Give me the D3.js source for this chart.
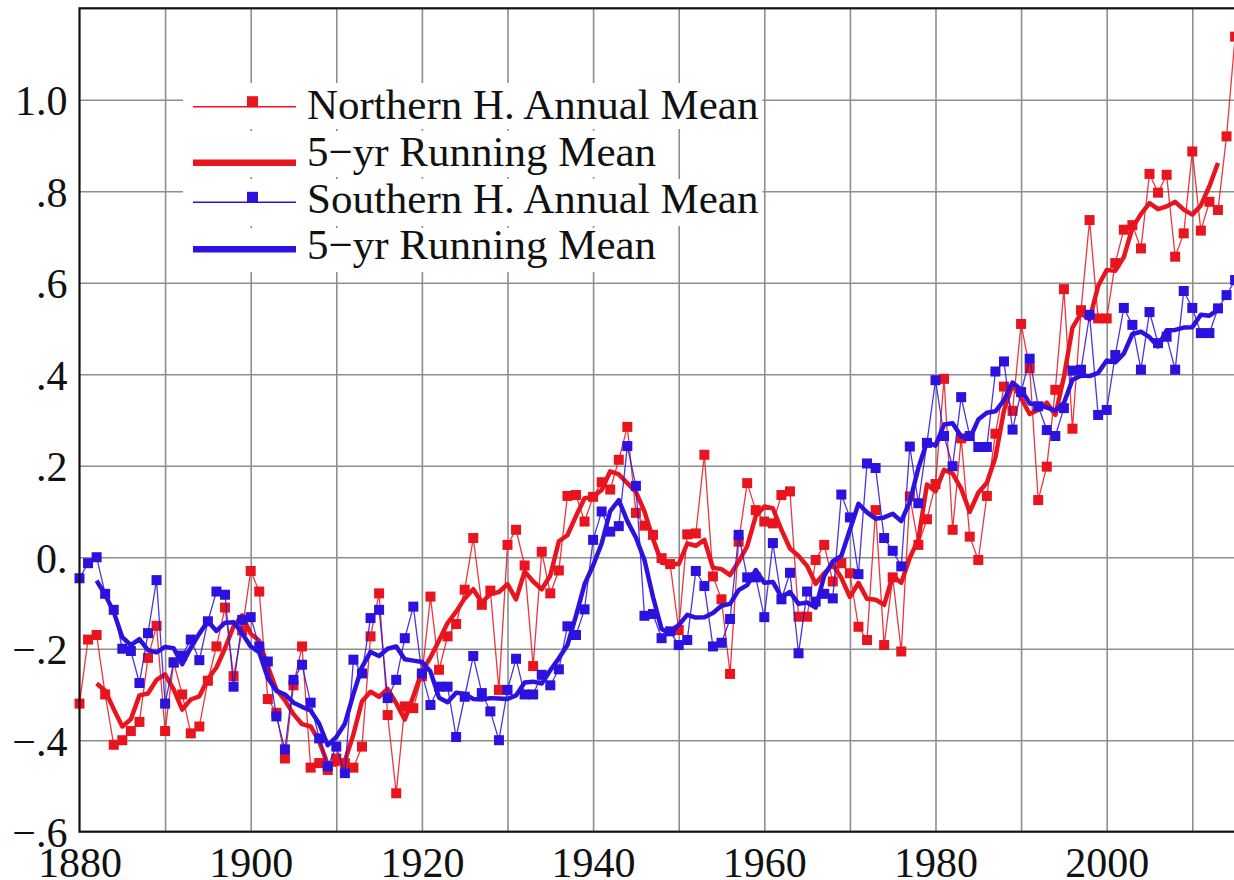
<!DOCTYPE html>
<html>
<head>
<meta charset="utf-8">
<script src="https://cdn.jsdelivr.net/npm/d3@7"></script>
<style>
    html, body { margin: 0; padding: 0; background: #fff; overflow: hidden; }
    svg { display: block; }
</style>
</head>
<body>
<svg id="chart" width="1234" height="880"></svg>
<script>
// hemispheric annual means, 1880-2015
var startYear = 1880;
var northAnnual = [
    -0.32, -0.18, -0.17, -0.30, -0.41, -0.40, -0.38, -0.36, -0.22, -0.15,
    -0.38, -0.23, -0.30, -0.385, -0.37, -0.27, -0.195, -0.11, -0.26, -0.16,
    -0.03, -0.075, -0.31, -0.34, -0.44, -0.28, -0.195, -0.46, -0.45, -0.465,
    -0.44, -0.45, -0.46, -0.414, -0.173, -0.079, -0.345, -0.516, -0.326, -0.33,
    -0.26, -0.086, -0.246, -0.173, -0.146, -0.071, 0.042, -0.104, -0.073, -0.29,
    0.027, 0.06, -0.018, -0.238, 0.012, -0.079, -0.029, 0.134, 0.136, 0.078,
    0.132, 0.164, 0.148, 0.213, 0.285, 0.097, 0.069, 0.049, -0.002, -0.015,
    -0.159, 0.05, 0.052, 0.224, -0.042, -0.092, -0.255, 0.034, 0.162, 0.103,
    0.078, 0.074, 0.136, 0.144, -0.13, -0.13, -0.006, 0.027, -0.053, -0.013,
    -0.035, -0.152, -0.181, 0.103, -0.192, -0.044, -0.206, 0.133, 0.027, 0.083,
    0.16, 0.39, 0.06, 0.26, 0.045, -0.006, 0.134, 0.27, 0.373, 0.32,
    0.51, 0.413, 0.125, 0.198, 0.366, 0.586, 0.281, 0.54, 0.737, 0.522,
    0.522, 0.643, 0.716, 0.726, 0.675, 0.838, 0.797, 0.836, 0.657, 0.708,
    0.887, 0.714, 0.777, 0.759, 0.92, 1.138
];
var southAnnual = [
    -0.046, -0.013, 0.0, -0.08, -0.115, -0.20, -0.205, -0.275, -0.166, -0.05,
    -0.32, -0.23, -0.215, -0.18, -0.225, -0.14, -0.075, -0.082, -0.283, -0.137,
    -0.131, -0.195, -0.228, -0.348, -0.42, -0.268, -0.235, -0.318, -0.396, -0.457,
    -0.414, -0.472, -0.224, -0.254, -0.133, -0.115, -0.308, -0.268, -0.177, -0.108,
    -0.254, -0.323, -0.283, -0.283, -0.393, -0.305, -0.216, -0.297, -0.337, -0.40,
    -0.29, -0.222, -0.30, -0.30, -0.257, -0.28, -0.245, -0.151, -0.17, -0.114,
    0.038, 0.10, 0.056, 0.068, 0.243, 0.156, -0.128, -0.124, -0.177, -0.162,
    -0.192, -0.181, -0.03, -0.063, -0.195, -0.187, -0.135, 0.049, -0.044, -0.044,
    -0.131, 0.031, -0.092, -0.034, -0.21, -0.075, -0.097, -0.08, -0.09, 0.137,
    0.087, -0.037, 0.205, 0.195, 0.042, 0.014, -0.02, 0.242, 0.118, 0.25,
    0.387, 0.265, 0.199, 0.35, 0.265, 0.241, 0.241, 0.406, 0.428, 0.279,
    0.361, 0.434, 0.33, 0.278, 0.265, 0.326, 0.408, 0.41, 0.53, 0.311,
    0.322, 0.442, 0.545, 0.508, 0.41, 0.536, 0.468, 0.482, 0.41, 0.582,
    0.545, 0.49, 0.49, 0.544, 0.573, 0.606
];

// 5-yr running means as drawn, 1882-2013
var meanStartYear = 1882;
var northRunning = [
    -0.276, -0.292, -0.332, -0.37, -0.354, -0.302, -0.298, -0.268,
    -0.256, -0.289, -0.333, -0.311, -0.304, -0.266, -0.241, -0.199, -0.151, -0.127,
    -0.167, -0.183, -0.239, -0.289, -0.313, -0.343, -0.365, -0.37, -0.402, -0.453,
    -0.453, -0.446, -0.387, -0.315, -0.294, -0.305, -0.288, -0.319, -0.355, -0.304,
    -0.25, -0.219, -0.182, -0.144, -0.119, -0.09, -0.07, -0.099, -0.08, -0.076,
    -0.059, -0.092, -0.031, -0.053, -0.07, -0.04, 0.035, 0.048, 0.09, 0.129,
    0.132, 0.147, 0.188, 0.181, 0.162, 0.143, 0.10, 0.04, -0.012, -0.015,
    -0.015, 0.03, 0.025, 0.038, -0.023, -0.026, -0.039, -0.01, 0.024, 0.09,
    0.111, 0.107, 0.06, 0.019, 0.003, -0.019, -0.058, -0.035, -0.016, -0.045,
    -0.087, -0.056, -0.091, -0.093, -0.104, -0.041, -0.056, -0.001, 0.039, 0.159,
    0.144, 0.191, 0.183, 0.15, 0.099, 0.141, 0.163, 0.218, 0.321, 0.377,
    0.348, 0.313, 0.322, 0.338, 0.311, 0.394, 0.502, 0.533, 0.52, 0.593,
    0.628, 0.626, 0.656, 0.72, 0.75, 0.774, 0.761, 0.767, 0.777, 0.76,
    0.749, 0.769, 0.811, 0.862
];
var southRunning = [
    -0.051, -0.082, -0.12, -0.175, -0.192, -0.179, -0.203, -0.208,
    -0.196, -0.199, -0.234, -0.198, -0.167, -0.14, -0.161, -0.143, -0.142, -0.166,
    -0.195, -0.208, -0.264, -0.292, -0.30, -0.318, -0.327, -0.335, -0.364, -0.411,
    -0.393, -0.364, -0.299, -0.24, -0.207, -0.216, -0.20, -0.195, -0.223, -0.226,
    -0.229, -0.25, -0.307, -0.317, -0.296, -0.299, -0.31, -0.311, -0.308, -0.309,
    -0.31, -0.302, -0.274, -0.272, -0.276, -0.247, -0.221, -0.192, -0.128, -0.059,
    -0.018, 0.03, 0.101, 0.125, 0.079, 0.043, -0.006, -0.087, -0.157, -0.167,
    -0.148, -0.126, -0.132, -0.131, -0.122, -0.106, -0.102, -0.072, -0.061, -0.028,
    -0.056, -0.054, -0.087, -0.076, -0.102, -0.099, -0.11, -0.041, -0.009, 0.003,
    0.06, 0.117, 0.098, 0.084, 0.087, 0.095, 0.079, 0.121, 0.195, 0.252,
    0.244, 0.29, 0.293, 0.264, 0.259, 0.301, 0.316, 0.319, 0.343, 0.382,
    0.366, 0.336, 0.334, 0.327, 0.321, 0.337, 0.388, 0.397, 0.396, 0.403,
    0.43, 0.426, 0.445, 0.488, 0.493, 0.481, 0.461, 0.496, 0.497, 0.502,
    0.503, 0.53, 0.528, 0.541
];

var yTicks = [-0.6, -0.4, -0.2, 0, 0.2, 0.4, 0.6, 0.8, 1.0];
var yTickLabels = ["\u2212.6", "\u2212.4", "\u2212.2", "0.", ".2", ".4", ".6", ".8", "1.0"];
var xLabelYears = [1880, 1900, 1920, 1940, 1960, 1980, 2000, 2020];
var legendLabels = ["Northern H. Annual Mean", "5\u2212yr Running Mean",
                    "Southern H. Annual Mean", "5\u2212yr Running Mean"];

var svg = d3.select("#chart"),
    red = "#e8141e",
    blue = "#2c12de",
    gridColor = "#8e8e8e",
    font = "'Liberation Serif', 'Times New Roman', serif",
    plotLeft = 79.5, plotTop = 8.3, plotBottom = 831.7,
    x = d3.scaleLinear().domain([1880, 2020]).range([plotLeft, plotLeft + 140 * 8.56]),
    y = d3.scaleLinear().domain([-0.6, 1.2]).range([plotBottom, plotTop]),
    drawGrid, drawSeries, drawLegend, drawFrame, toPoints;

toPoints = function (values, firstYear) {
    return values.map(function (v, i) { return { year: firstYear + i, value: v }; });
};

drawGrid = function () {
    var vg = svg.append("g").attr("transform", "translate(0," + plotBottom + ")")
        .call(d3.axisBottom(x).tickValues(d3.range(1890, 2021, 10))
            .tickSize(-(plotBottom - plotTop)).tickFormat(""));
    var hg = svg.append("g").attr("transform", "translate(" + plotLeft + ",0)")
        .call(d3.axisLeft(y).tickValues([-0.4, -0.2, 0, 0.2, 0.4, 0.6, 0.8, 1.0])
            .tickSize(-(x(2020) - plotLeft)).tickFormat(""));
    [vg, hg].forEach(function (g) {
        g.select(".domain").remove();
        g.selectAll(".tick line").attr("stroke", gridColor).attr("stroke-width", 1.6);
    });

    // tick labels
    var ya = svg.append("g").attr("transform", "translate(" + plotLeft + ",0)")
        .call(d3.axisLeft(y).tickValues(yTicks).tickSize(0).tickPadding(12)
            .tickFormat(function (d, i) { return yTickLabels[i]; }));
    var xa = svg.append("g").attr("transform", "translate(0," + plotBottom + ")")
        .call(d3.axisBottom(x).tickValues(xLabelYears).tickSize(0).tickPadding(15)
            .tickFormat(d3.format("d")));
    [ya, xa].forEach(function (g) {
        g.select(".domain").remove();
        g.selectAll("text").attr("font-family", font).attr("font-size", 42).attr("fill", "#111");
    });
    ya.selectAll("text").attr("dy", "0.36em");
};

drawSeries = function (annual, running, color) {
    var line = d3.line().x(function (d) { return x(d.year); }).y(function (d) { return y(d.value); }),
        pts = toPoints(annual, startYear);

    svg.append("path").datum(pts)
        .attr("d", line)
        .attr("fill", "none")
        .attr("stroke", color)
        .attr("stroke-width", 1.3)
        .attr("stroke-opacity", 0.85);
    svg.append("g").selectAll("rect").data(pts).enter().append("rect")
        .attr("x", function (d) { return x(d.year) - 5; })
        .attr("y", function (d) { return y(d.value) - 5; })
        .attr("width", 10).attr("height", 10)
        .attr("fill", color);
    svg.append("path").datum(toPoints(running, meanStartYear))
        .attr("d", line)
        .attr("fill", "none")
        .attr("stroke", color)
        .attr("stroke-width", 4.5)
        .attr("stroke-linejoin", "round");
};

drawLegend = function () {
    var rowTops = [83, 131, 179, 228],
        rowHeights = [46, 46, 47, 44],
        sampleY = [106.7, 162.7, 202.3, 249.3],
        baselines = [119, 166, 213, 259],
        colors = [red, red, blue, blue],
        thick = [false, true, false, true];

    legendLabels.forEach(function (label, i) {
        var g = svg.append("g"),
            bg = g.append("rect").attr("fill", "#fff"),
            t;
        g.append("line")
            .attr("x1", 193).attr("x2", 296)
            .attr("y1", sampleY[i]).attr("y2", sampleY[i])
            .attr("stroke", colors[i])
            .attr("stroke-width", thick[i] ? 6.5 : 1.6);
        if (!thick[i]) {
            g.append("rect")
                .attr("x", 247).attr("y", sampleY[i] - 10.5)
                .attr("width", 11).attr("height", 11)
                .attr("fill", colors[i]);
        }
        t = g.append("text")
            .attr("x", 307).attr("y", baselines[i])
            .attr("font-family", font).attr("font-size", 43)
            .attr("fill", "#111")
            .text(label);
        bg.attr("x", 183).attr("y", rowTops[i])
            .attr("width", 307 + t.node().getComputedTextLength() + 4 - 183)
            .attr("height", rowHeights[i]);
    });
};

drawFrame = function () {
    svg.append("rect")
        .attr("x", plotLeft).attr("y", plotTop)
        .attr("width", x(2020) - plotLeft).attr("height", plotBottom - plotTop)
        .attr("fill", "none")
        .attr("stroke", "#111")
        .attr("stroke-width", 2.2);
};

drawGrid();
drawSeries(northAnnual, northRunning, red);
drawSeries(southAnnual, southRunning, blue);
drawLegend();
drawFrame();
</script>
</body>
</html>
